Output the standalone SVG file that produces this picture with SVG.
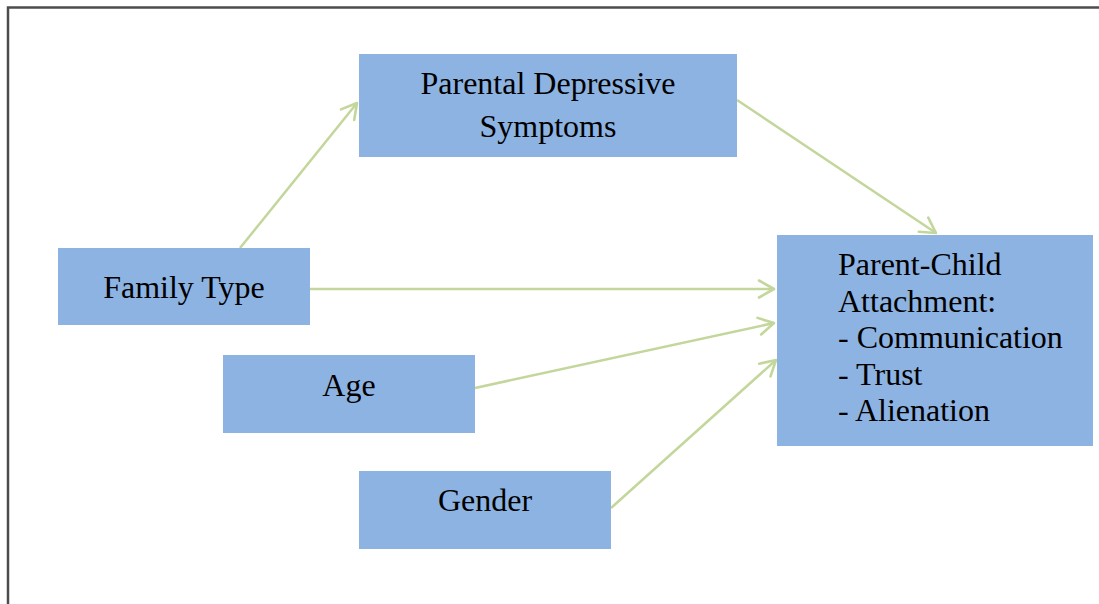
<svg xmlns="http://www.w3.org/2000/svg" width="1099" height="604" viewBox="0 0 1099 604">
<style>
.box{fill:#8DB3E2;}
.t{font-family:"Liberation Serif","Times New Roman",serif;font-size:32px;fill:#000;}
.c{text-anchor:middle;}
.conn{stroke:#C3D69B;stroke-width:2.5;fill:none;marker-end:url(#arr);}
</style>
<defs>
<marker id="arr" markerUnits="userSpaceOnUse" viewBox="-17 -10 19 20" refX="0" refY="0" markerWidth="19" markerHeight="20" orient="auto" overflow="visible">
<path d="M-15,-8.5 L0,0 L-15,8.5" fill="none" stroke="#C3D69B" stroke-width="2.6" stroke-linecap="round" stroke-linejoin="round"/>
</marker>
</defs>
<rect width="1099" height="604" fill="#fff"/>
<path d="M8,604 V7.5 H1099" fill="none" stroke="#4d4d4d" stroke-width="2.5"/>
<g id="connectors">
<line class="conn" x1="240" y1="248" x2="357" y2="103"/>
<line class="conn" x1="737" y1="100" x2="936" y2="233"/>
<line class="conn" x1="310" y1="289" x2="774" y2="289"/>
<line class="conn" x1="475" y1="388" x2="774" y2="323"/>
<line class="conn" x1="611" y1="508" x2="776" y2="360"/>
</g>
<g id="parental">
<rect class="box" x="359" y="54" width="378" height="103"/>
<text class="t c" x="548" y="94">Parental Depressive</text>
<text class="t c" x="548" y="137">Symptoms</text>
</g>
<g id="family">
<rect class="box" x="58" y="248" width="252" height="77"/>
<text class="t c" x="184" y="298">Family Type</text>
</g>
<g id="age">
<rect class="box" x="223" y="355" width="252" height="78"/>
<text class="t c" x="349" y="396">Age</text>
</g>
<g id="gender">
<rect class="box" x="359" y="471" width="252" height="78"/>
<text class="t c" x="485" y="511">Gender</text>
</g>
<g id="attachment">
<rect class="box" x="777" y="235" width="316" height="211"/>
<text class="t" x="838" y="275">Parent-Child</text>
<text class="t" x="838" y="312">Attachment:</text>
<text class="t" x="838" y="348">- Communication</text>
<text class="t" x="838" y="385">- Trust</text>
<text class="t" x="838" y="421">- Alienation</text>
</g>
</svg>
